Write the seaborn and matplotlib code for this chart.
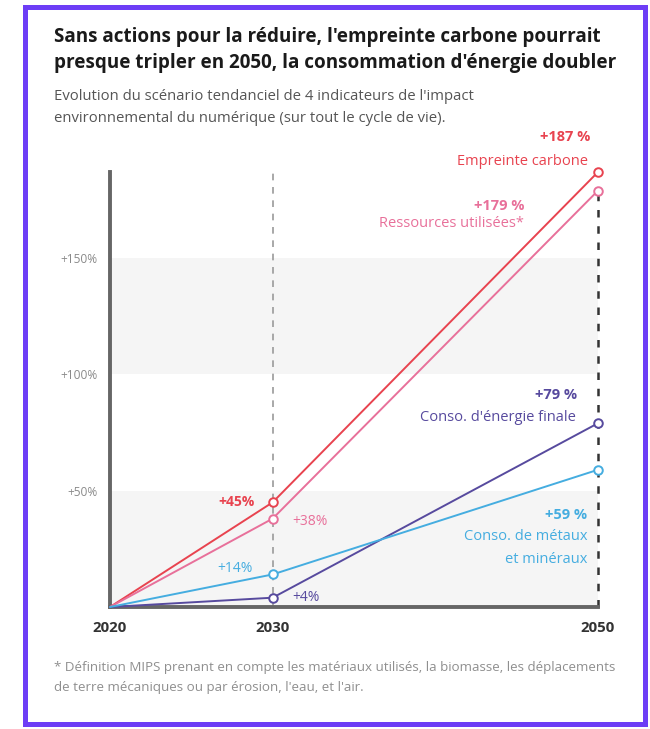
import matplotlib
matplotlib.use("Agg")
import matplotlib.pyplot as plt
from matplotlib.patches import Rectangle
import pandas as pd
import seaborn as sns

# --- data -------------------------------------------------------------
annees = [2020, 2030, 2050]
empreinte_carbone = [0, 45, 187]
ressources_utilisees = [0, 38, 179]
energie_finale = [0, 4, 79]
metaux_mineraux = [0, 14, 59]

noms = ["Empreinte carbone", "Ressources utilisées*",
        "Conso. d'énergie finale", "Conso. de métaux et minéraux"]
couleurs = ["#e8434f", "#e8709a", "#574a9e", "#45ade0"]
yticks = [50, 100, 150]
ytick_labels = ["+50%", "+100%", "+150%"]
xtick_labels = ["2020", "2030", "2050"]

df = pd.DataFrame({
    "annee": annees * 4,
    "valeur": empreinte_carbone + ressources_utilisees + energie_finale + metaux_mineraux,
    "indicateur": sum([[n] * len(annees) for n in noms], []),
})

# --- figure -----------------------------------------------------------
sns.set_theme(style="white")
plt.rcParams["font.family"] = ["Open Sans", "DejaVu Sans"]

fig = plt.figure(figsize=(6.5, 7.29), dpi=100)
fig.patch.set_facecolor("white")

# purple frame
fig.add_artist(Rectangle((24.5 / 650, 1 - 724 / 729), 620 / 650, 717 / 729,
                         transform=fig.transFigure, fill=False,
                         edgecolor="#6d3df6", linewidth=3.6))

ax = fig.add_axes([110 / 650, 1 - 607 / 729, 488 / 650, 435 / 729])
ax.set_xlim(2020, 2050)
ax.set_ylim(0, 187)

# alternating bands
for lo, hi in [(0, 50), (100, 150)]:
    ax.axhspan(lo, hi, color="#f5f5f5", zorder=0, lw=0)

# vertical guides
ax.axvline(2030, color="#9a9a9a", lw=1.2, ls=(0, (4, 4)), zorder=1)
ax.plot([2050, 2050], [0, 179], color="#333333", lw=1.8, ls=(0, (3, 3.5)),
        zorder=1, clip_on=False)

sns.lineplot(data=df, x="annee", y="valeur", hue="indicateur",
             hue_order=noms, palette=couleurs, linewidth=1.4,
             legend=False, ax=ax, zorder=3)
for line in ax.get_lines()[-4:]:
    line.set_clip_on(False)

# open circle markers at 2030 and 2050
for nom, col in zip(noms, couleurs):
    sub = df[(df["indicateur"] == nom) & (df["annee"] > 2020)]
    ax.scatter(sub["annee"], sub["valeur"], s=38, facecolor="white",
               edgecolor=col, linewidth=1.4, zorder=4, clip_on=False)

# axes styling
for s in ["top", "right"]:
    ax.spines[s].set_visible(False)
for s in ["left", "bottom"]:
    ax.spines[s].set_color("#666666")
    ax.spines[s].set_linewidth(2.8)
ax.set_xticks(annees)
ax.set_xticklabels(xtick_labels, fontsize=10.8, fontweight="bold", color="#333333")
ax.tick_params(axis="x", length=0, pad=10)
ax.set_yticks(yticks)
ax.set_yticklabels(ytick_labels, fontsize=8.6, color="#8a8a8a")
ax.tick_params(axis="y", length=6, width=1.2, color="#666666", pad=3)
ax.set_xlabel("")
ax.set_ylabel("")

# labels at 2030
vals2030 = dict(zip(noms, [s[1] for s in (empreinte_carbone, ressources_utilisees,
                                          energie_finale, metaux_mineraux)]))
offsets_2030 = {
    noms[0]: (-18, 0, "right", "bold"),
    noms[1]: (20, -3, "left", "normal"),
    noms[2]: (20, 0, "left", "normal"),
    noms[3]: (-20, 6, "right", "normal"),
}
for nom, col in zip(noms, couleurs):
    v = vals2030[nom]
    dx, dy, ha, fw = offsets_2030[nom]
    ax.annotate(f"+{v}%", xy=(2030, v), xytext=(dx, dy),
                textcoords="offset pixels", ha=ha, va="center",
                fontsize=10, color=col, fontweight=fw)

# labels at 2050
vals2050 = [empreinte_carbone[2], ressources_utilisees[2],
            energie_finale[2], metaux_mineraux[2]]
end_labels = [
    (0, [(f"+{vals2050[0]} %", -8, 35, "bold"), ("Empreinte carbone", -10, 11, "normal")]),
    (1, [(f"+{vals2050[1]} %", -74, -15, "bold"), ("Ressources utilisées*", -74, -33, "normal")]),
    (2, [(f"+{vals2050[2]} %", -21, 28, "bold"), ("Conso. d'énergie finale", -22, 6, "normal")]),
    (3, [(f"+{vals2050[3]} %", -11, -45, "bold"), ("Conso. de métaux", -11, -67, "normal"),
         ("et minéraux", -11, -90, "normal")]),
]
for i, items in end_labels:
    for txt, dx, dy, fw in items:
        ax.annotate(txt, xy=(2050, vals2050[i]), xytext=(dx, dy),
                    textcoords="offset pixels", ha="right", va="center",
                    fontsize=10.5, color=couleurs[i], fontweight=fw,
                    annotation_clip=False)

# titles
fig.text(54 / 650, 1 - 37 / 729,
         "Sans actions pour la réduire, l'empreinte carbone pourrait",
         fontsize=13.6, fontweight="bold", color="#1a1a1a", va="center")
fig.text(54 / 650, 1 - 63 / 729,
         "presque tripler en 2050, la consommation d'énergie doubler",
         fontsize=13.6, fontweight="bold", color="#1a1a1a", va="center")
fig.text(54 / 650, 1 - 97 / 729,
         "Evolution du scénario tendanciel de 4 indicateurs de l'impact",
         fontsize=10.7, color="#555555", va="center")
fig.text(54 / 650, 1 - 118 / 729,
         "environnemental du numérique (sur tout le cycle de vie).",
         fontsize=10.7, color="#555555", va="center")

# footnote
fig.text(54 / 650, 1 - 667 / 729,
         "* Définition MIPS prenant en compte les matériaux utilisés, la biomasse, les déplacements",
         fontsize=9.6, color="#8f8f8f", va="center")
fig.text(54 / 650, 1 - 688 / 729,
         "de terre mécaniques ou par érosion, l'eau, et l'air.",
         fontsize=9.6, color="#8f8f8f", va="center")

fig.savefig("out.png", dpi=100, facecolor="white")
